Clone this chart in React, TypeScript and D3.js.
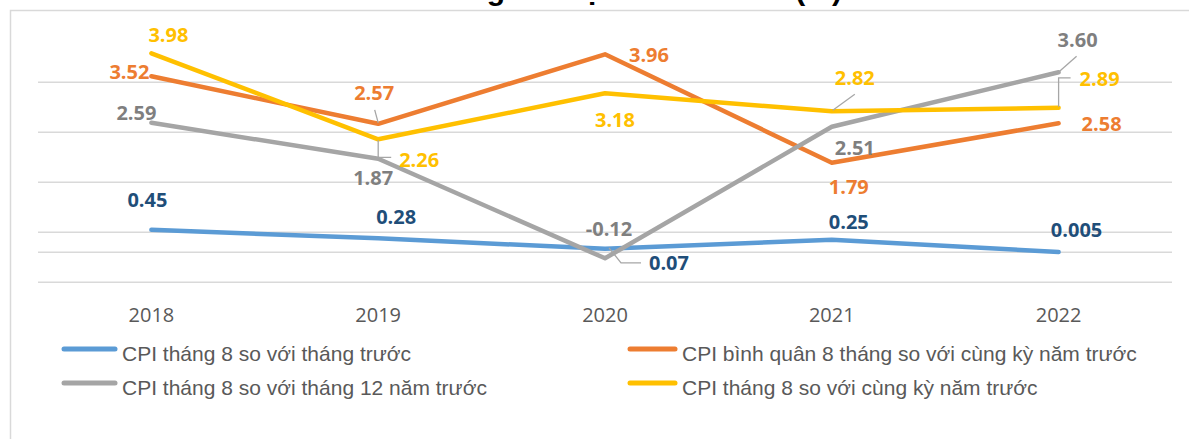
import React, { useRef, useEffect } from 'react';
import * as d3 from 'd3';

// data
const years = ['2018', '2019', '2020', '2021', '2022'];
const cpiMoM = [0.45, 0.28, 0.07, 0.25, 0.005];      // CPI tháng 8 so với tháng trước
const cpiAvg8 = [3.52, 2.57, 3.96, 1.79, 2.58];      // CPI bình quân 8 tháng so với cùng kỳ năm trước
const cpiVsDec = [2.59, 1.87, -0.12, 2.51, 3.60];    // CPI tháng 8 so với tháng 12 năm trước
const cpiYoY = [3.98, 2.26, 3.18, 2.82, 2.89];       // CPI tháng 8 so với cùng kỳ năm trước
const gridTicks = [-0.6, 0.4, 1.4, 2.4, 3.4];
const title = 'Diễn biến CPI các năm giai đoạn 2018 - 2022 (%)';

const series = [
  {
    name: 'CPI tháng 8 so với tháng trước', values: cpiMoM, color: '#5B9BD5', labelColor: '#1F4E79',
    offsets: [[-4, -30], [18, -22], [64, 14], [17, -18], [18, -22]],
    leaders: [null, null, [[4, -1], [16, 14], [36, 14]], null, null],
    legend: [0, 0],
  },
  {
    name: 'CPI bình quân 8 tháng so với cùng kỳ năm trước', values: cpiAvg8, color: '#ED7D31', labelColor: '#ED7D31',
    offsets: [[-22, -5], [-4, -31], [44, 0], [17, 24], [43, 0]],
    leaders: [null, [[-3.5, -14], [0, -1]], null, null, null],
    legend: [1, 0],
  },
  {
    name: 'CPI tháng 8 so với tháng 12 năm trước', values: cpiVsDec, color: '#A5A5A5', labelColor: '#7F7F7F',
    offsets: [[-15, -10], [-5, 19], [4, -30], [23, 21], [19, -33]],
    leaders: [null, null, null, null, [[1, -1], [18, -16]]],
    legend: [0, 1],
  },
  {
    name: 'CPI tháng 8 so với cùng kỳ năm trước', values: cpiYoY, color: '#FFC000', labelColor: '#FFC000',
    offsets: [[17, -19], [41, 20], [10, 26], [23, -34], [41, -29]],
    leaders: [null, [[13, 18], [0, 18], [0, 1]], null, [[1, -1], [23, -17]], [[0, -1], [0, -30], [12, -30]]],
    legend: [1, 1],
  },
];

const fmt = (v: number) => (v !== 0 && Math.abs(v) < 0.01 ? String(v) : v.toFixed(2));

export default function App() {
  const ref = useRef<SVGSVGElement>(null);

  useEffect(() => {
    const svg = d3.select(ref.current);
    svg.selectAll('*').remove();

    const x = d3.scalePoint<string>().domain(years).range([38, 1172]).padding(0.5);
    const y = d3.scaleLinear().domain([-0.6, 4.4]).range([282.3, 32.3]);

    // title (mostly cut off at the top, as in the source)
    svg.append('text')
      .attr('x', 842).attr('y', 0)
      .attr('text-anchor', 'end')
      .style('font-family', '"Liberation Sans", Arial, sans-serif')
      .style('font-weight', 'bold')
      .style('font-size', '30px')
      .attr('fill', '#000')
      .text(title);

    // chart frame
    svg.append('rect')
      .attr('x', 10.5).attr('y', 10.5)
      .attr('width', 1200).attr('height', 450)
      .attr('fill', 'none')
      .attr('stroke', '#D9D9D9')
      .attr('stroke-width', 1.5);

    // gridlines + zero line
    svg.append('g')
      .selectAll('line')
      .data([...gridTicks, 0])
      .join('line')
        .attr('x1', 38).attr('x2', 1172)
        .attr('y1', d => y(d)).attr('y2', d => y(d))
        .attr('stroke', '#D9D9D9')
        .attr('stroke-width', 1.6);

    // year labels
    svg.append('g')
      .selectAll('text')
      .data(years)
      .join('text')
        .attr('x', d => x(d)!)
        .attr('y', 322)
        .attr('text-anchor', 'middle')
        .style('font-family', '"Open Sans", sans-serif')
        .style('font-size', '20px')
        .attr('fill', '#595959')
        .text(d => d);

    const line = d3.line<number>()
      .x((d, i) => x(years[i])!)
      .y(d => y(d));

    series.forEach(s => {
      svg.append('path')
        .datum(s.values)
        .attr('fill', 'none')
        .attr('stroke', s.color)
        .attr('stroke-width', 4.5)
        .attr('stroke-linecap', 'round')
        .attr('stroke-linejoin', 'round')
        .attr('d', line);
    });

    // leader lines
    series.forEach(s => {
      s.leaders.forEach((pts, i) => {
        if (!pts) return;
        const px = x(years[i])!;
        const py = y(s.values[i]);
        svg.append('polyline')
          .attr('points', pts.map(p => (px + p[0]) + ',' + (py + p[1])).join(' '))
          .attr('fill', 'none')
          .attr('stroke', '#A6A6A6')
          .attr('stroke-width', 1.3);
      });
    });

    // data labels
    series.forEach(s => {
      svg.append('g')
        .selectAll('text')
        .data(s.values)
        .join('text')
          .attr('x', (d, i) => x(years[i])! + s.offsets[i][0])
          .attr('y', (d, i) => y(d) + s.offsets[i][1])
          .attr('dy', '0.36em')
          .attr('text-anchor', 'middle')
          .style('font-family', '"Open Sans", sans-serif')
          .style('font-weight', '700')
          .style('font-size', '20px')
          .attr('fill', s.labelColor)
          .text(d => fmt(d));
    });

    // legend
    const legX = [[64, 115, 122], [630, 675, 682]];
    const legY = [349, 383];
    const leg = svg.append('g');
    series.forEach(s => {
      const [c, r] = s.legend;
      leg.append('line')
        .attr('x1', legX[c][0]).attr('x2', legX[c][1])
        .attr('y1', legY[r]).attr('y2', legY[r])
        .attr('stroke', s.color)
        .attr('stroke-width', 5)
        .attr('stroke-linecap', 'round');
      leg.append('text')
        .attr('x', legX[c][2])
        .attr('y', legY[r] + 12)
        .style('font-family', '"Liberation Sans", Arial, sans-serif')
        .style('font-size', '21px')
        .attr('fill', '#595959')
        .text(s.name);
    });
  }, []);

  return (
    <div style={{ position: 'absolute', left: 0, top: 0, width: 1189, height: 439, background: '#fff', overflow: 'hidden' }}>
      <svg ref={ref} width={1189} height={439}></svg>
    </div>
  );
}
